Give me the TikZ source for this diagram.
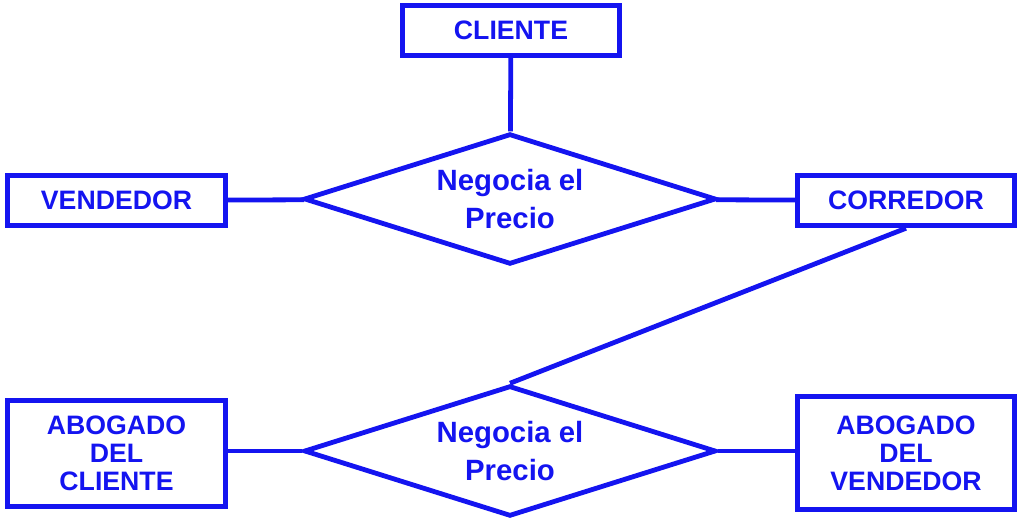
\documentclass[tikz,border=0pt]{standalone}
\usepackage{fontspec}
\setmainfont{Liberation Sans}
\usetikzlibrary{shapes.geometric}
\definecolor{er_blue}{RGB}{20, 20, 240}

\begin{document}
\begin{tikzpicture}[x=0.75pt, y=-0.75pt,
  entity/.style={draw=er_blue, line width=3.6pt, text=er_blue, font=\bfseries\fontsize{20}{21}\selectfont,
    align=center, inner sep=0pt, minimum width=163pt, minimum height=38pt},
  relation/.style={diamond, draw=er_blue, line width=3.6pt, text=er_blue, font=\bfseries\fontsize{22}{28}\selectfont,
    align=center, inner sep=0pt, aspect=3.1, minimum width=309pt, minimum height=98pt},
  link/.style={draw=er_blue, line width=3.6pt}]
\useasboundingbox (0,0) rectangle (1021,523);

\node[entity] (cliente) at (511,30.5) {CLIENTE};
\node[relation] (neg1) at (510,199) {Negocia el\\Precio};
\node[entity] (vendedor) at (116.5,200.5) {VENDEDOR};
\node[entity] (corredor) at (906,200.5) {CORREDOR};

\node[relation] (neg2) at (510,451) {Negocia el\\Precio};
\node[entity, minimum height=80pt] (abcliente) at (116.5,453.5) {ABOGADO\\DEL\\CLIENTE};
\node[entity, minimum height=85pt] (abvendedor) at (906,453) {ABOGADO\\DEL\\VENDEDOR};

% connectors
\draw[link] (cliente) -- (neg1);
\draw[link] (vendedor) -- (neg1);
\draw[link] (corredor) -- (neg1);
\draw[link] (corredor.south) -- (neg2.north);
\draw[link] (abcliente.east |- neg2) -- (neg2);
\draw[link] (abvendedor.west |- neg2) -- (neg2);
\end{tikzpicture}
\end{document}
